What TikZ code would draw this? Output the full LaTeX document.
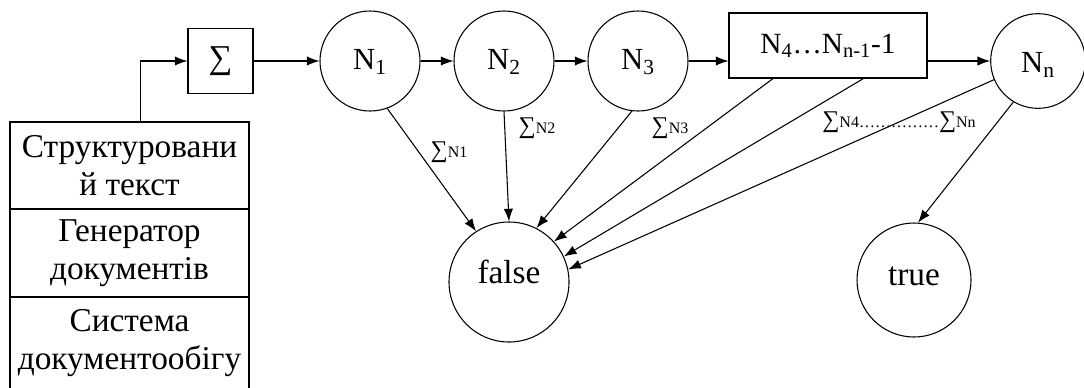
\documentclass[tikz,border=0pt]{standalone}
\usepackage{fontspec}
\setmainfont{Liberation Serif}
\usetikzlibrary{arrows.meta}

\begin{document}
\begin{tikzpicture}[
  x=0.75pt,
  y=0.75pt,
  font=\fontsize{25}{28.5}\selectfont,
  line/.style={draw=black,line width=0.8pt},
  arrow/.style={line,-{Latex[length=9.5pt,width=7pt]}},
  state/.style={line,circle,inner sep=0pt},
  block/.style={line,rectangle,inner sep=0pt},
  stackrow/.style={line,rectangle,align=center,inner sep=0pt,minimum width=179.25pt},
  statetext/.style={anchor=base,font=\fontsize{23}{26}\selectfont},
  sumlabel/.style={font=\fontsize{12}{14}\selectfont},
  bigsum/.style={font=\fontsize{18}{18}\selectfont}
]
\useasboundingbox (0,0) rectangle (1084,-387);

% ---------------------------------------------------------------
% left stack of sources
% ---------------------------------------------------------------
\node[stackrow,minimum height=65.25pt] (row1) at (129.5,-165.5)
  {Структуровани\\й текст};
\node[stackrow,minimum height=66pt] (row2) at (129.5,-253)
  {Генератор\\документів};
\node[stackrow,minimum height=69pt] (row3) at (129.5,-343)
  {Система\\документообігу};

% ---------------------------------------------------------------
% chain of states
% ---------------------------------------------------------------
\node[block,minimum size=48.75pt] (sum) at (220.5,-61) {∑};

\node[state,minimum size=75pt,label={[statetext,yshift=-1pt]center:N\textsubscript{1}}] (n1) at (370,-61) {};
\node[state,minimum size=75pt,label={[statetext,yshift=-1pt]center:N\textsubscript{2}}] (n2) at (504,-61) {};
\node[state,minimum size=75pt,label={[statetext,yshift=-1pt]center:N\textsubscript{3}}] (n3) at (638,-61) {};
\node[block,minimum width=148.5pt,minimum height=48.75pt,font=\fontsize{22}{24}\selectfont] (mid) at (828,-45.5)
  {N\textsubscript{4}…N\textsubscript{n-1}-1};
\node[state,minimum size=71pt,label={[statetext,yshift=-3pt]center:N\textsubscript{n}}] (nn) at (1038,-61) {};

% outcomes
\node[state,minimum size=90pt,label={[anchor=base,yshift=7.5pt]center:false}] (false) at (509,-282) {};
\node[state,minimum size=85.5pt,label={[anchor=base,yshift=2.5pt]center:true}] (true) at (914,-280) {};

% ---------------------------------------------------------------
% connectors
% ---------------------------------------------------------------
\draw[arrow] ([xshift=8pt]row1.north) |- (sum.west);
\draw[arrow] (sum.east) -- (n1.west);
\draw[arrow] (n1.east) -- (n2.west);
\draw[arrow] (n2.east) -- (n3.west);
\draw[arrow] (n3.east) -- (n3.east -| mid.west);
\draw[arrow] (mid.east |- nn.west) -- (nn.west);

\draw[arrow] (n1.-70) -- (false.123);
\draw[arrow] (n2.south) -- (false.north);
\draw[arrow] (n3.-97) -- (false.63);
\draw[arrow] (mid.-149.4) -- (false.42);
\draw[arrow] (mid.-43.7) -- (false.25);
\draw[arrow] (nn.-157.5) -- (false.12);
\draw[arrow] (nn.-121) -- (true.86);

% sums along the exits
\node[sumlabel] (s1) at (449,-152) {{\fontsize{18}{18}\selectfont∑}N1};
\node[sumlabel] (s2) at (537,-128) {{\fontsize{18}{18}\selectfont∑}N2};
\node[sumlabel] (s3) at (670,-128) {{\fontsize{18}{18}\selectfont∑}N3};
\node[sumlabel] (s4) at (899,-122) {{\fontsize{18}{18}\selectfont∑}N4……………{\fontsize{18}{18}\selectfont∑}Nn};

\end{tikzpicture}
\end{document}
